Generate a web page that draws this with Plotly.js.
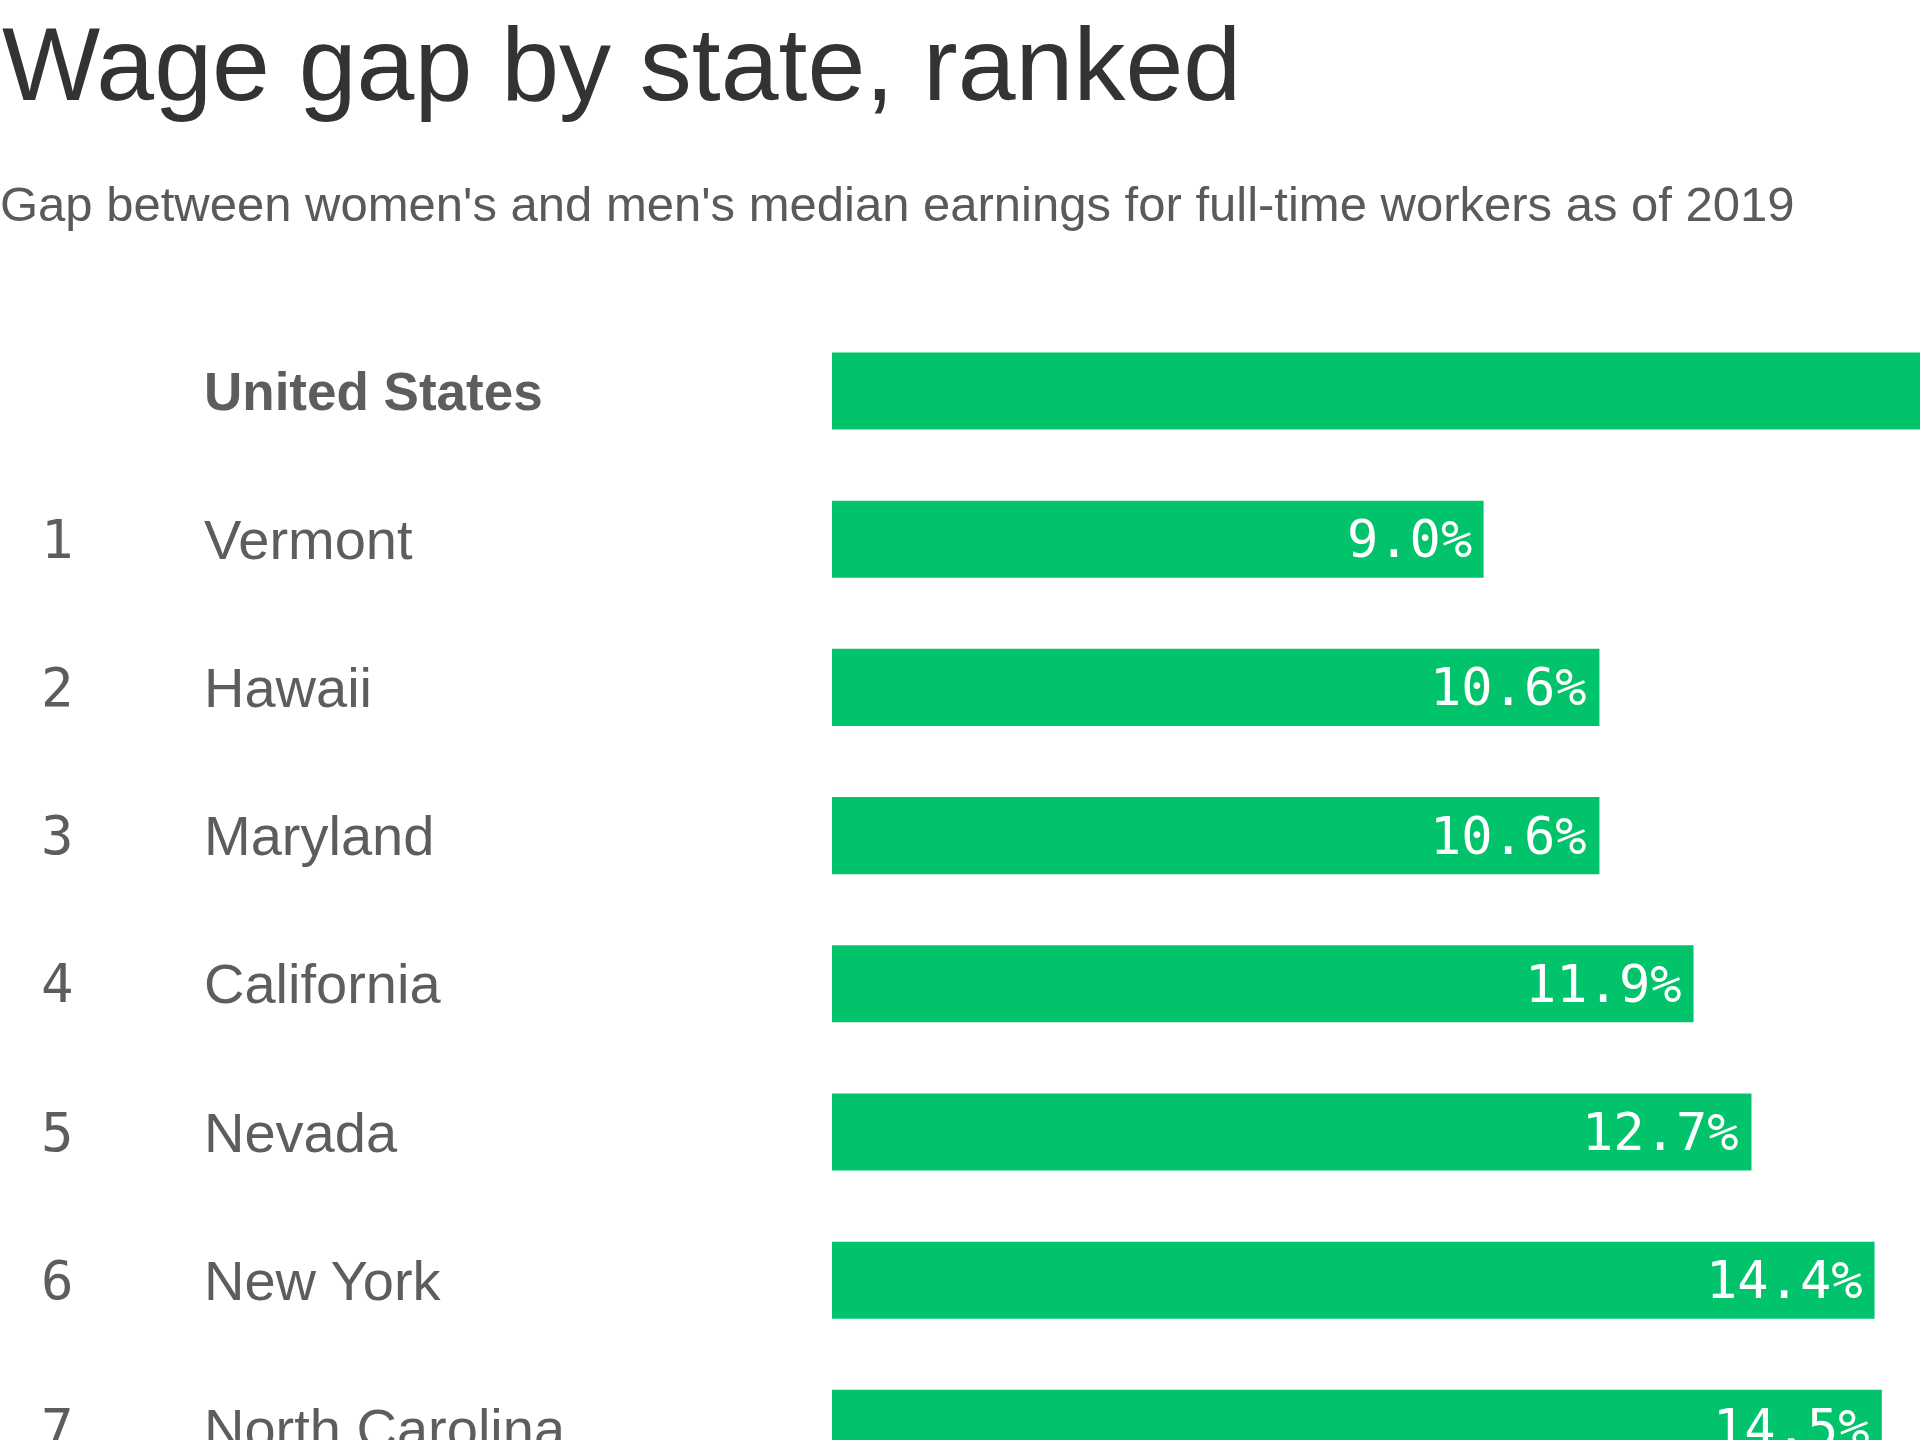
<!DOCTYPE html>
<html>
<head>
<meta charset="utf-8">
<script src="https://cdn.plot.ly/plotly-3.0.1.min.js"></script>
<style>
  html, body { margin: 0; padding: 0; background: #ffffff; }
  #chart { width: 1920px; height: 1440px; }
</style>
</head>
<body>
<div id="chart"></div>
<script>
// Wage gap between women's and men's median earnings, full-time workers, 2019
const places = ['United States', 'Vermont', 'Hawaii', 'Maryland', 'California', 'Nevada', 'New York', 'North Carolina'];
const ranks = ['', '1', '2', '3', '4', '5', '6', '7'];
const gapPct = [17.7, 9.0, 10.6, 10.6, 11.9, 12.7, 14.4, 14.5];

const W = 1920, H = 1440;
const LEFT = 832, TOP = 300;
const PX_PER_PCT = 72.4;
const ROW_PX = 148.2;
const FIRST_ROW_CENTER = 391;

const plotW = W - LEFT;
const xMax = plotW / PX_PER_PCT;
const yTop = -(FIRST_ROW_CENTER - TOP) / ROW_PX;
const yBottom = (H - FIRST_ROW_CENTER) / ROW_PX;

const green = '#00c36b';
const labelGrey = '#5d5d5d';
const sansFamily = '"Liberation Sans", Arial, sans-serif';
const monoFamily = '"DejaVu Sans Mono", monospace';

// paper fraction for a horizontal pixel position
const paperX = px => (px - LEFT) / plotW;

const trace = {
  type: 'bar',
  orientation: 'h',
  x: gapPct,
  y: places,
  marker: { color: green },
  hoverinfo: 'skip'
};

const annotations = [];

places.forEach((name, i) => {
  const isTotal = i === 0;
  // state name
  annotations.push({
    xref: 'paper', yref: 'y',
    x: paperX(202), y: name,
    xanchor: 'left', yanchor: 'middle',
    text: isTotal ? '<b>' + name + '</b>' : name,
    showarrow: false,
    font: { family: sansFamily, size: isTotal ? 53 : 56, color: labelGrey }
  });
  // rank number
  if (ranks[i]) {
    annotations.push({
      xref: 'paper', yref: 'y',
      x: paperX(57), y: name,
      xanchor: 'center', yanchor: 'middle',
      text: ranks[i],
      showarrow: false,
      font: { family: monoFamily, size: 54, color: labelGrey }
    });
  }
  // value label inside the bar end
  annotations.push({
    xref: 'x', yref: 'y',
    x: gapPct[i], y: name,
    xanchor: 'right', yanchor: 'middle',
    xshift: -10,
    text: gapPct[i].toFixed(1) + '%',
    showarrow: false,
    font: { family: monoFamily, size: 52, color: '#ffffff' }
  });
});

// subtitle
annotations.push({
  xref: 'paper', yref: 'paper',
  x: paperX(-2), y: (H - 233) / (H - TOP),
  xanchor: 'left', yanchor: 'bottom',
  text: "Gap between women's and men's median earnings for full-time workers as of 2019",
  showarrow: false,
  font: { family: sansFamily, size: 49, color: '#5a5a5a' }
});

const layout = {
  width: W,
  height: H,
  margin: { l: LEFT, r: 0, t: TOP, b: 0, pad: 0 },
  paper_bgcolor: '#ffffff',
  plot_bgcolor: '#ffffff',
  showlegend: false,
  bargap: 0.48,
  title: {
    text: 'Wage gap by state, ranked',
    xref: 'container', yref: 'container',
    x: 0, xanchor: 'left',
    y: 1 - 27 / H, yanchor: 'top',
    pad: { l: 2, t: 0 },
    font: { family: sansFamily, size: 104, color: '#333333' }
  },
  xaxis: {
    range: [0, xMax],
    showgrid: false, zeroline: false, showline: false,
    showticklabels: false, ticks: '', fixedrange: true
  },
  yaxis: {
    type: 'category',
    categoryorder: 'array',
    categoryarray: places,
    range: [yBottom, yTop],
    showgrid: false, zeroline: false, showline: false,
    showticklabels: false, ticks: '', fixedrange: true
  },
  annotations: annotations
};

Plotly.newPlot('chart', [trace], layout, { displayModeBar: false, staticPlot: true });
</script>
</body>
</html>
